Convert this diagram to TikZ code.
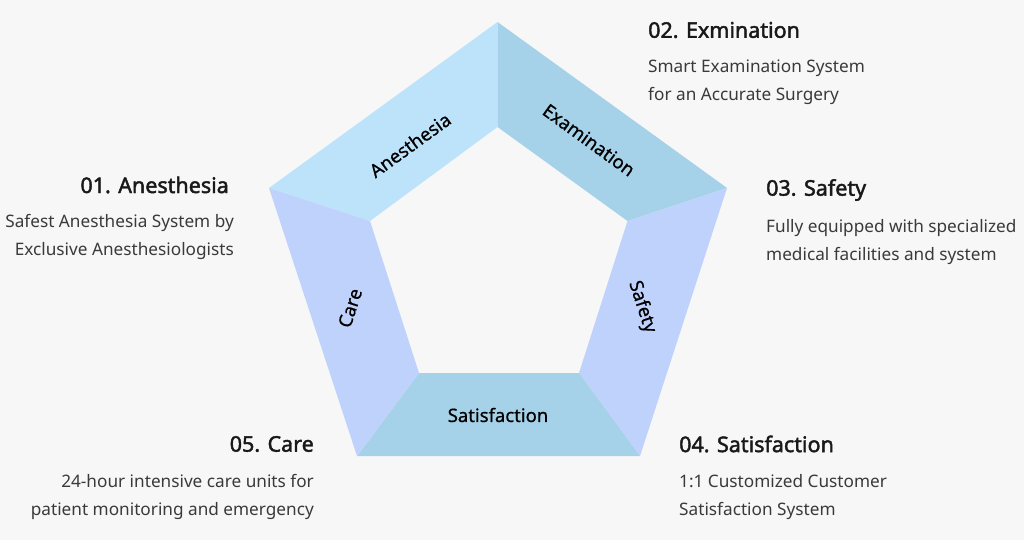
\documentclass[tikz,border=0pt]{standalone}
\usepackage{fontspec}
\setmainfont{Noto Sans}
\newfontfamily\headfont[FakeBold=2]{Noto Sans}
\newfontfamily\segfont[FakeBold=0.6]{Noto Sans}
\usetikzlibrary{positioning}
\definecolor{bgcol}{HTML}{F7F7F7}
\definecolor{skyA}{HTML}{BDE3FB}
\definecolor{skyB}{HTML}{A5D2E8}
\definecolor{lavA}{HTML}{BFD2FC}
\definecolor{subcol}{HTML}{3A3A3A}
\tikzset{
  seglabel/.style={font=\segfont\fontsize{18.5}{20}\selectfont, text=black, inner sep=1pt},
  head/.style={font=\headfont\fontsize{21.5}{24}\selectfont, text=black!90, inner sep=0pt},
  sub/.style={font=\fontsize{17.2}{28}\selectfont, text=subcol, inner sep=0pt}
}

\begin{document}
\begin{tikzpicture}[x=1pt,y=-1pt]
      \fill[bgcol] (0,0) rectangle (1024,540);
      \useasboundingbox (0,0) rectangle (1024,540);
      % outer corners
      \coordinate (O1) at (497.5,22);
      \coordinate (O2) at (727,188);
      \coordinate (O3) at (640,456);
      \coordinate (O4) at (357,456);
      \coordinate (O5) at (269,188);
      % inner corners
      \coordinate (I1) at (497.5,127);
      \coordinate (I2) at (627.5,221);
      \coordinate (I3) at (579,373);
      \coordinate (I4) at (419,373);
      \coordinate (I5) at (370,221);
      \fill[skyA] (O5)--(O1)--(I1)--(I5)--cycle;
      \fill[skyB] (O1)--(O2)--(I2)--(I1)--cycle;
      \fill[lavA] (O2)--(O3)--(I3)--(I2)--cycle;
      \fill[skyB] (O3)--(O4)--(I4)--(I3)--cycle;
      \fill[lavA] (O4)--(O5)--(I5)--(I4)--cycle;
      \node[seglabel, rotate=36] (anes) at (410,145) {Anesthesia};
      \node[seglabel, rotate=-36] (exam) at (589,140) {Examination};
      \node[seglabel, rotate=-72] (safe) at (642,307) {Safety};
      \node[seglabel] (satis) at (498,415) {Satisfaction};
      \node[seglabel, rotate=72] (care) at (350,308) {Care};
      % descriptions
      \node[head, anchor=east] (t1) at (229,185) {01. Anesthesia};
      \node[sub, anchor=north east, align=right] (s1) at (234,214) {Safest Anesthesia System by\\Exclusive Anesthesiologists};
      \node[head, anchor=west] (t2) at (648,30) {02. Exmination};
      \node[sub, anchor=north west, align=left] (s2) at (648,60) {Smart Examination System\\for an Accurate Surgery};
      \node[head, anchor=west] (t3) at (766,190) {03. Safety};
      \node[sub, anchor=north west, align=left] (s3) at (766,219) {Fully equipped with specialized\\medical facilities and system};
      \node[head, anchor=west] (t4) at (679,444) {04. Satisfaction};
      \node[sub, anchor=north west, align=left] (s4) at (679,474) {1:1 Customized Customer\\Satisfaction System};
      \node[head, anchor=east] (t5) at (314,444) {05. Care};
      \node[sub, anchor=north east, align=right] (s5) at (314,474) {24-hour intensive care units for\\patient monitoring and emergency};
\end{tikzpicture}
\end{document}
